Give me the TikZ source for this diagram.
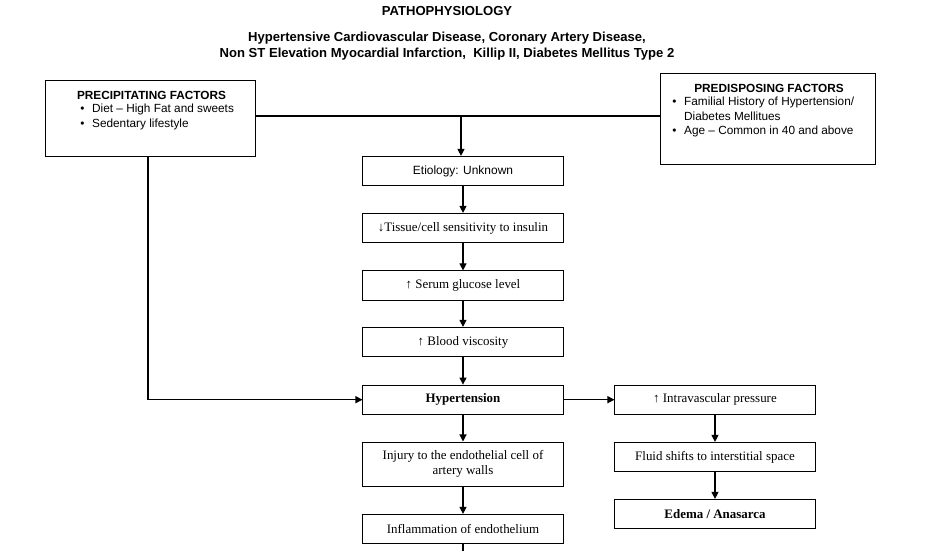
\documentclass[tikz,border=0pt]{standalone}
\usepackage{fontspec}
\setmainfont{Liberation Serif}
\setsansfont{Liberation Sans}
\usetikzlibrary{arrows.meta}
\tikzset{
  stepbox/.style={draw, line width=0.7pt, minimum width=5cm, minimum height=0.73cm, inner sep=2pt, align=center, font=\fontsize{9.2}{10.2}\selectfont},
  factorbox/.style={draw, line width=0.7pt, inner sep=0pt},
  headtext/.style={font=\sffamily\bfseries\fontsize{8.4}{10}\selectfont},
  listtext/.style={font=\sffamily\fontsize{8.4}{10}\selectfont, inner sep=0pt, anchor=base west},
  flow/.style={line width=0.8pt, -{Triangle[length=5pt,width=5pt]}},
  link/.style={line width=0.8pt}
}
\begin{document}
\begin{tikzpicture}[x=0.025cm, y=-0.025cm]
\useasboundingbox (0,0) rectangle (947,551);
\node [font=\sffamily\bfseries\fontsize{9.3}{10}\selectfont] (title) at (447,11) {PATHOPHYSIOLOGY};
\node [font=\sffamily\bfseries\fontsize{9.3}{11}\selectfont, align=center] (subtitle) at (447,46) {Hypertensive Cardiovascular Disease, Coronary Artery Disease,\\Non ST Elevation Myocardial Infarction,~ Killip II, Diabetes Mellitus Type 2};

\node [factorbox, minimum width=5.25cm, minimum height=1.9cm] (prec) at (150.7,118.7) {};
\node [headtext] (prechead) at (151.5,95.5) {PRECIPITATING FACTORS};
\node [listtext] (preclist) at (80,113) {\begin{tabular}[t]{@{}l@{\hspace{5.5pt}}l@{}}\textbullet & Diet -- High Fat and sweets\\ \textbullet & Sedentary lifestyle\end{tabular}};

\node [factorbox, minimum width=5.36cm, minimum height=2.26cm] (pred) at (767.8,119) {};
\node [headtext] (predhead) at (769,88) {PREDISPOSING FACTORS};
\node [listtext] (predlist) at (672,106) {\begin{tabular}[t]{@{}l@{\hspace{5.5pt}}l@{}}\textbullet & Familial History of Hypertension/\\ & Diabetes Mellitues\\ \textbullet & Age -- Common in 40 and above\end{tabular}};

\node [stepbox, font=\sffamily\fontsize{8.5}{10}\selectfont] (etio) at (463,171) {Etiology: Unknown};
\node [stepbox] (tissue) at (463,228) {↓Tissue/cell sensitivity to insulin};
\node [stepbox] (serum) at (463,285.5) {↑ Serum glucose level};
\node [stepbox] (blood) at (463,342) {↑ Blood viscosity};
\node [stepbox, font=\bfseries\fontsize{9.2}{10.2}\selectfont] (hyper) at (463,399.7) {Hypertension};
\node [stepbox, minimum height=1.1cm] (injury) at (463,464) {Injury to the endothelial cell of\\artery walls};
\node [stepbox] (inflam) at (463,529) {Inflammation of endothelium};

\node [stepbox] (intra) at (715,399.7) {↑ Intravascular pressure};
\node [stepbox] (fluid) at (715,457) {Fluid shifts to interstitial space};
\node [stepbox, font=\bfseries\fontsize{9.2}{10.2}\selectfont] (edema) at (715,514) {Edema / Anasarca};

\coordinate (join) at (461,116);
\draw [link] (join -| prec.east) -- (join -| pred.west);
\draw [flow] (join) -- (join |- etio.north);
\draw [flow] (etio) -- (tissue);
\draw [flow] (tissue) -- (serum);
\draw [flow] (serum) -- (blood);
\draw [flow] (blood) -- (hyper);
\draw [flow] (hyper) -- (injury);
\draw [flow] (injury) -- (inflam);
\coordinate (pagefoot) at (463,551);
\draw [link] (inflam) -- (pagefoot);

\coordinate (bend) at (148,399.7);
\draw [flow] (bend |- prec.south) -- (bend) -- (hyper.west);
\draw [flow] (hyper) -- (intra);
\draw [flow] (intra) -- (fluid);
\draw [flow] (fluid) -- (edema);
\end{tikzpicture}
\end{document}
